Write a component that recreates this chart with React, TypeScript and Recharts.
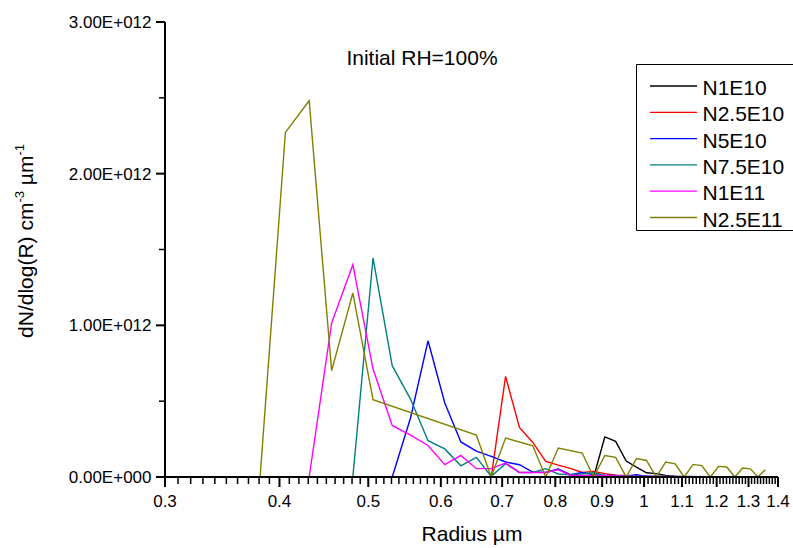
import React from 'react';
import { LineChart, Line, XAxis, YAxis, Label } from 'recharts';

const FONT = '"Liberation Sans", Arial, Helvetica, sans-serif';

const seriesNames = ['N1E10', 'N2.5E10', 'N5E10', 'N7.5E10', 'N1E11', 'N2.5E11'];
const seriesColors = ['#000000', '#ff0000', '#0000ff', '#008080', '#ff00ff', '#808000'];

// [radius µm, dN/dlog(R)]
const n1e10: [number, number][] = [
  [0.3, 0], [0.881, 0], [0.906, 2.64e11], [0.931, 2.35e11], [0.956, 1.05e11], [0.981, 6.5e10],
  [1.006, 2.8e10], [1.031, 2.2e10], [1.056, 1.1e10], [1.081, 4e9], [1.106, 2e9], [1.356, 0],
];
const n25e10: [number, number][] = [
  [0.3, 0], [0.681, 0], [0.706, 6.63e11], [0.731, 3.27e11], [0.756, 2.28e11], [0.781, 1.03e11],
  [0.806, 7.8e10], [0.831, 5.7e10], [0.856, 3.0e10], [0.881, 3.7e10], [0.906, 2.2e10], [0.931, 1.2e10],
  [0.956, 1.0e10], [0.981, 8e9], [1.006, 6e9], [1.031, 4e9], [1.106, 2e9], [1.356, 0],
];
const n5e10: [number, number][] = [
  [0.3, 0], [0.531, 0], [0.556, 3.89e11], [0.581, 8.98e11], [0.606, 4.88e11], [0.631, 2.31e11],
  [0.656, 1.71e11], [0.681, 1.36e11], [0.706, 9.9e10], [0.731, 8.1e10], [0.756, 3.3e10], [0.781, 3.0e10],
  [0.806, 5.3e10], [0.831, 1.5e10], [0.856, 3.0e10], [0.881, 1.5e10], [0.906, 1.0e10], [0.931, 1.0e10],
  [0.956, 6e9], [0.981, 1.5e10], [1.006, 4e9], [1.031, 3e9], [1.356, 0],
];
const n75e10: [number, number][] = [
  [0.3, 0], [0.481, 0], [0.506, 1.444e12], [0.531, 7.34e11], [0.556, 5.14e11], [0.581, 2.39e11],
  [0.606, 1.85e11], [0.631, 7.4e10], [0.656, 1.3e11], [0.681, 4e9], [0.706, 8.8e10], [0.731, 3.0e10],
  [0.756, 3.0e10], [0.781, 5.5e10], [0.806, 2.0e10], [0.831, 1.5e10], [0.856, 2.0e10], [0.881, 3.0e10],
  [0.906, 1.0e10], [0.931, 8e9], [0.956, 6e9], [0.981, 5e9], [1.031, 3e9], [1.356, 0],
];
const n1e11: [number, number][] = [
  [0.3, 0], [0.431, 0], [0.456, 1.015e12], [0.481, 1.4e12], [0.506, 7.12e11], [0.531, 3.4e11],
  [0.556, 2.76e11], [0.581, 2.08e11], [0.606, 8.1e10], [0.631, 1.42e11], [0.656, 5.5e10], [0.681, 5.5e10],
  [0.706, 9.2e10], [0.731, 3.0e10], [0.781, 3.0e10], [0.806, 4.8e10], [0.831, 1.0e10], [0.881, 1.0e10],
  [0.981, 4e9], [1.356, 0],
];
const n25e11: [number, number][] = [
  [0.3, 0], [0.381, 0], [0.406, 2.272e12], [0.431, 2.481e12], [0.456, 7.01e11], [0.481, 1.213e12],
  [0.506, 5.1e11], [0.656, 2.77e11], [0.681, 0], [0.706, 2.57e11], [0.756, 2.06e11], [0.781, 0],
  [0.806, 1.91e11], [0.856, 1.58e11], [0.881, 0], [0.906, 1.42e11], [0.931, 1.29e11], [0.956, 0],
  [0.981, 1.21e11], [1.006, 1.09e11], [1.031, 0], [1.056, 9.9e10], [1.081, 8.7e10], [1.106, 0],
  [1.131, 8.3e10], [1.156, 7.5e10], [1.181, 0], [1.206, 7.0e10], [1.231, 6.6e10], [1.256, 0],
  [1.281, 5.9e10], [1.306, 5.4e10], [1.331, 0], [1.356, 4.8e10],
];

const seriesData = [n1e10, n25e10, n5e10, n75e10, n1e11, n25e11];

const xMajorTicks = [0.3, 0.4, 0.5, 0.6, 0.7, 0.8, 0.9, 1.0, 1.1, 1.2, 1.3, 1.4];
const xMajorLabels = ['0.3', '0.4', '0.5', '0.6', '0.7', '0.8', '0.9', '1', '1.1', '1.2', '1.3', '1.4'];
const xMinorTicks = Array.from({ length: 111 }, (_, i) => (30 + i) / 100).filter(
  (v) => !xMajorTicks.some((m) => Math.abs(m - v) < 1e-9)
);
const xAllTicks = [...xMajorTicks, ...xMinorTicks].sort((a, b) => a - b);

const yMajorTicks = [0, 1e12, 2e12, 3e12];
const yMajorLabels = ['0.00E+000', '1.00E+012', '2.00E+012', '3.00E+012'];
const yAllTicks = [0, 0.5e12, 1e12, 1.5e12, 2e12, 2.5e12, 3e12];

const titleText = 'Initial RH=100%';
const xLabelText = 'Radius \u00b5m';

const toObjs = (pts: [number, number][]) => pts.map(([x, y]) => ({ x, y }));

const XTick = (props: any) => {
  const { x, y, payload } = props;
  const idx = xMajorTicks.findIndex((m) => Math.abs(m - payload.value) < 1e-9);
  const major = idx >= 0;
  return (
    <g>
      <line x1={x} x2={x} y1={y} y2={y + (major ? 10 : 7)} stroke="#000" strokeWidth={major ? 2 : 1.5} />
      {major && (
        <text x={x} y={y + 30} textAnchor="middle" fontSize={17} fontFamily={FONT} fill="#000">
          {xMajorLabels[idx]}
        </text>
      )}
    </g>
  );
};

const YTick = (props: any) => {
  const { x, y, payload } = props;
  const idx = yMajorTicks.findIndex((m) => Math.abs(m - payload.value) < 1);
  const major = idx >= 0;
  return (
    <g>
      <line x1={x - (major ? 9 : 6)} x2={x} y1={y} y2={y} stroke="#000" strokeWidth={major ? 2 : 1.5} />
      {major && (
        <text x={x - 13.5} y={y + 6} textAnchor="end" fontSize={17} fontFamily={FONT} fill="#000">
          {yMajorLabels[idx]}
        </text>
      )}
    </g>
  );
};

// Legend frame: open on the right, running off the chart edge like the reference
const LEG_X = 636.5;
const LEG_Y = 64.5;
const LEG_B = 230.5;
const LEG_ROW0 = 86;
const LEG_STEP = 26.3;

const YLabelContent = () => (
  <g>
    <text
      transform="translate(33,241) rotate(-90)"
      textAnchor="middle"
      fontSize={21}
      fontFamily={FONT}
      fill="#000"
    >
      dN/dlog(R) cm
      <tspan fontSize={13} dy={-9}>-3</tspan>
      <tspan dy={9}> {'\u00b5'}m</tspan>
      <tspan fontSize={13} dy={-9}>-1</tspan>
    </text>
    <text x={422} y={65} textAnchor="middle" fontSize={21} fontFamily={FONT} fill="#000">
      {titleText}
    </text>
    <g className="legend">
      <rect x={LEG_X} y={LEG_Y} width={170} height={LEG_B - LEG_Y} fill="#fff" stroke="none" />
      <path
        d={`M800,${LEG_Y} L${LEG_X},${LEG_Y} L${LEG_X},${LEG_B} L800,${LEG_B}`}
        fill="none"
        stroke="#000"
        strokeWidth={1}
      />
      {seriesNames.map((n, i) => {
        const cy = LEG_ROW0 + i * LEG_STEP;
        return (
          <g key={n}>
            <line x1={650} x2={697} y1={cy} y2={cy} stroke={seriesColors[i]} strokeWidth={1.3} />
            <text x={702.5} y={cy + 9} fontSize={21} fontFamily={FONT} fill="#000">
              {n}
            </text>
          </g>
        );
      })}
    </g>
  </g>
);

const XLabelContent = () => (
  <text x={472} y={541} textAnchor="middle" fontSize={21} fontFamily={FONT} fill="#000">
    {xLabelText}
  </text>
);

export default function App() {
  return (
    <div style={{ position: 'absolute', left: 0, top: 0, width: 793, height: 548, overflow: 'hidden', background: '#fff' }}>
      <LineChart width={793} height={548} margin={{ top: 22, right: 15, left: 0, bottom: 0 }}>
        <XAxis
          dataKey="x"
          type="number"
          scale="log"
          domain={[0.3, 1.4]}
          allowDataOverflow
          ticks={xAllTicks}
          interval={0}
          tickLine={false}
          tickSize={0}
          tickMargin={0}
          tick={<XTick />}
          axisLine={{ stroke: '#000', strokeWidth: 2 }}
          height={71}
        >
          <Label content={<XLabelContent />} />
        </XAxis>
        <YAxis
          type="number"
          domain={[0, 3e12]}
          allowDataOverflow
          ticks={yAllTicks}
          interval={0}
          tickLine={false}
          tickSize={0}
          tickMargin={0}
          tick={<YTick />}
          axisLine={{ stroke: '#000', strokeWidth: 2 }}
          width={165}
        >
          <Label content={<YLabelContent />} />
        </YAxis>
        {seriesNames.map((name, i) => (
          <Line
            key={name}
            name={name}
            data={toObjs(seriesData[i])}
            dataKey="y"
            type="linear"
            stroke={seriesColors[i]}
            strokeWidth={1.4}
            dot={false}
            activeDot={false}
            isAnimationActive={false}
          />
        ))}
      </LineChart>
    </div>
  );
}
